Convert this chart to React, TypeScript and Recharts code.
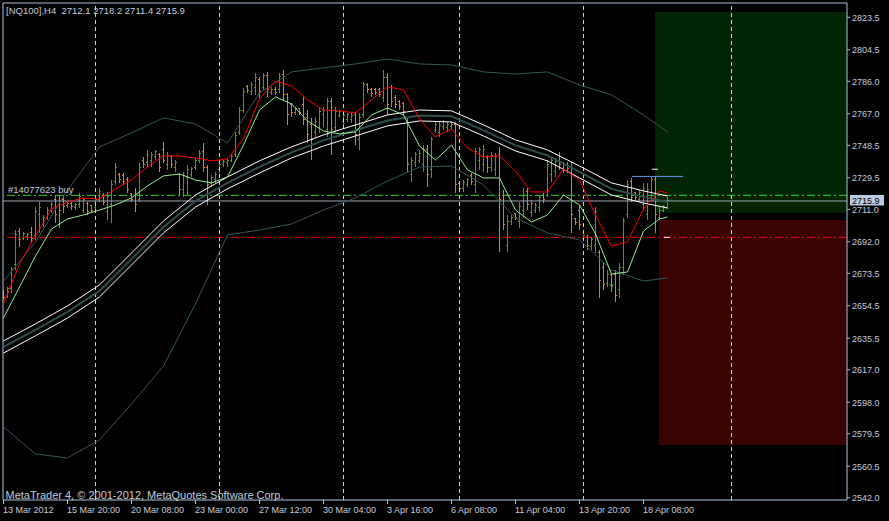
import React from "react";
import {
  ComposedChart,
  Bar,
  Line,
  XAxis,
  YAxis,
  ReferenceLine,
  ReferenceArea,
  ReferenceDot,
} from "recharts";

const UP = "#6b8e23"; // olive drab
const DOWN = "#e8782c"; // orange
const FG = "#b0c4de";
const TEXT = "#c3cddd";
const FONT = "'Liberation Sans', Arial, sans-serif";

const Y_MIN = 2540.7;
const Y_MAX = 2831.9;
const X_MIN = -0.125;
const X_MAX = 210.875;

// H4 bars, 13 Mar 2012 .. 19 Apr 2012
const OPEN = [
  2662.6, 2660.2, 2664.9, 2678.4, 2697.8, 2694.2, 2694.8, 2697.2, 2695.4, 2707.7,
  2702.4, 2706.5, 2710.6, 2716.5, 2713.6, 2716.5, 2713.0, 2714.2, 2711.8, 2713.6,
  2710.6, 2714.7, 2713.0, 2711.8, 2716.5, 2719.4, 2709.5, 2713.6, 2727.1, 2731.2,
  2730.6, 2728.2, 2720.0, 2719.4, 2716.5, 2739.9, 2738.2, 2739.9, 2741.7, 2742.9,
  2745.8, 2737.0, 2741.7, 2735.3, 2731.2, 2722.4, 2729.4, 2731.7, 2735.8, 2739.9,
  2744.6, 2735.3, 2725.9, 2728.2, 2734.1, 2737.0, 2738.2, 2739.9, 2742.9, 2755.8,
  2769.2, 2782.7, 2779.8, 2782.1, 2786.8, 2782.1, 2789.2, 2779.2, 2781.5, 2781.0,
  2789.8, 2778.0, 2772.2, 2767.5, 2769.8, 2772.2, 2764.6, 2760.5, 2755.8, 2758.7,
  2766.3, 2757.5, 2773.9, 2758.7, 2765.7, 2762.2, 2763.4, 2763.4, 2766.3, 2751.7,
  2766.3, 2783.9, 2781.0, 2781.5, 2781.0, 2776.3, 2788.0, 2782.1, 2776.3, 2773.9,
  2772.8, 2764.6, 2731.2, 2738.2, 2739.9, 2737.0, 2745.8, 2734.1, 2757.5, 2755.8,
  2759.3, 2758.7, 2759.3, 2760.5, 2725.9, 2723.0, 2725.3, 2730.6, 2725.3, 2739.9,
  2737.0, 2741.1, 2735.3, 2734.1, 2742.9, 2719.4, 2690.1, 2703.6, 2708.3, 2703.6,
  2710.6, 2721.2, 2708.9, 2710.6, 2711.8, 2719.4, 2719.4, 2731.2, 2732.9, 2742.3,
  2737.6, 2737.0, 2735.3, 2705.4, 2710.6, 2693.7, 2694.8, 2689.0, 2690.1, 2686.0,
  2676.7, 2667.3, 2672.6, 2672.6, 2663.8, 2676.7, 2707.7, 2727.1, 2720.6, 2716.5,
  2713.6, 2707.7, 2717.7, 2728.2, 2706.5, 2710.6, 2712.1,
];
const HIGH = [
  2663.8, 2665.5, 2677.2, 2698.9, 2700.1, 2697.8, 2697.2, 2700.7, 2712.4, 2715.3,
  2707.7, 2712.4, 2715.3, 2719.4, 2719.4, 2719.4, 2715.3, 2715.3, 2714.7, 2720.6,
  2717.7, 2715.3, 2713.6, 2718.3, 2723.5, 2720.6, 2721.2, 2728.2, 2738.2, 2732.3,
  2732.3, 2730.0, 2720.6, 2723.5, 2738.2, 2741.7, 2745.8, 2744.6, 2745.8, 2744.0,
  2750.5, 2744.6, 2742.9, 2739.9, 2732.3, 2732.9, 2737.0, 2735.8, 2741.1, 2745.8,
  2749.9, 2737.0, 2731.2, 2732.9, 2738.8, 2739.9, 2741.1, 2742.9, 2756.4, 2771.0,
  2782.1, 2783.9, 2785.6, 2790.9, 2788.6, 2790.9, 2791.5, 2782.7, 2782.7, 2790.9,
  2792.7, 2779.2, 2773.3, 2771.0, 2770.4, 2776.9, 2769.2, 2764.6, 2765.1, 2771.0,
  2771.0, 2776.3, 2776.3, 2771.0, 2769.2, 2767.5, 2767.5, 2767.5, 2768.1, 2767.5,
  2785.6, 2785.1, 2782.1, 2782.1, 2782.1, 2792.7, 2790.9, 2783.9, 2778.0, 2775.1,
  2773.9, 2765.1, 2741.7, 2744.6, 2745.8, 2748.7, 2748.7, 2753.4, 2762.2, 2762.2,
  2763.4, 2762.2, 2762.2, 2762.2, 2727.1, 2728.2, 2729.4, 2732.3, 2747.0, 2747.6,
  2748.7, 2742.9, 2744.6, 2744.0, 2747.6, 2722.4, 2707.7, 2707.7, 2708.9, 2715.3,
  2723.5, 2723.5, 2716.5, 2714.7, 2719.4, 2720.6, 2739.9, 2741.7, 2741.1, 2744.6,
  2738.8, 2738.8, 2738.8, 2706.0, 2713.6, 2696.0, 2696.0, 2694.8, 2712.4, 2687.2,
  2679.6, 2675.5, 2673.7, 2675.5, 2679.6, 2706.0, 2728.2, 2729.4, 2721.2, 2722.4,
  2726.5, 2726.5, 2730.0, 2730.6, 2712.4, 2713.6, 2718.2,
];
const LOW = [
  2657.9, 2659.1, 2662.0, 2675.5, 2689.0, 2693.1, 2693.1, 2691.9, 2693.1, 2697.2,
  2700.7, 2704.8, 2708.9, 2703.0, 2700.1, 2708.9, 2711.8, 2710.6, 2710.6, 2711.8,
  2708.9, 2707.7, 2708.9, 2710.6, 2715.3, 2713.6, 2704.8, 2703.0, 2725.3, 2726.5,
  2725.3, 2720.6, 2715.3, 2709.5, 2715.3, 2735.3, 2735.8, 2735.8, 2739.9, 2732.9,
  2738.2, 2734.1, 2735.3, 2732.9, 2719.4, 2718.3, 2719.4, 2730.0, 2734.1, 2738.2,
  2732.9, 2713.6, 2724.1, 2726.5, 2732.3, 2735.8, 2735.8, 2738.8, 2741.7, 2754.6,
  2767.5, 2779.2, 2778.0, 2778.0, 2776.3, 2781.0, 2776.9, 2778.0, 2778.0, 2779.2,
  2775.1, 2760.5, 2765.1, 2766.3, 2766.3, 2760.5, 2749.9, 2739.9, 2753.4, 2755.8,
  2759.3, 2753.4, 2742.9, 2756.4, 2764.6, 2760.5, 2762.2, 2761.6, 2748.7, 2745.8,
  2764.6, 2779.2, 2776.9, 2778.0, 2776.9, 2773.9, 2766.3, 2771.0, 2770.4, 2769.2,
  2766.3, 2732.9, 2727.1, 2735.8, 2738.2, 2732.9, 2724.1, 2729.4, 2755.8, 2753.4,
  2757.5, 2756.4, 2757.5, 2720.6, 2721.2, 2721.2, 2724.1, 2725.3, 2720.6, 2734.1,
  2732.9, 2732.3, 2732.9, 2730.6, 2686.0, 2698.9, 2686.0, 2701.9, 2704.8, 2700.1,
  2706.0, 2710.6, 2706.5, 2708.9, 2709.5, 2714.7, 2718.3, 2727.1, 2730.0, 2734.1,
  2732.3, 2732.3, 2697.2, 2701.9, 2698.9, 2693.1, 2687.2, 2687.2, 2685.4, 2659.1,
  2663.8, 2665.5, 2663.8, 2656.7, 2659.1, 2672.6, 2706.0, 2715.3, 2716.5, 2715.3,
  2710.6, 2704.8, 2715.3, 2697.2, 2704.8, 2709.5, 2711.4,
];
const CLOSE = [
  2659.1, 2664.4, 2675.5, 2696.0, 2693.1, 2696.6, 2696.0, 2694.2, 2709.5, 2711.8,
  2706.0, 2710.6, 2713.6, 2707.7, 2710.6, 2712.4, 2714.7, 2712.4, 2713.6, 2718.8,
  2716.5, 2709.5, 2710.6, 2716.5, 2721.2, 2715.3, 2718.8, 2725.3, 2735.3, 2728.2,
  2727.1, 2722.4, 2716.5, 2713.6, 2735.8, 2737.0, 2742.9, 2742.9, 2744.6, 2735.3,
  2739.9, 2742.3, 2737.0, 2738.2, 2722.4, 2730.6, 2734.1, 2734.7, 2739.4, 2744.0,
  2735.3, 2725.3, 2729.4, 2731.2, 2737.0, 2738.8, 2739.9, 2741.7, 2754.0, 2769.2,
  2779.8, 2780.4, 2783.9, 2788.0, 2779.8, 2789.2, 2781.0, 2781.5, 2779.2, 2788.6,
  2778.0, 2766.3, 2767.5, 2769.8, 2767.5, 2763.4, 2754.6, 2751.7, 2762.2, 2768.1,
  2769.2, 2773.9, 2757.5, 2768.1, 2768.1, 2765.7, 2766.3, 2765.7, 2754.6, 2764.6,
  2783.9, 2781.0, 2778.6, 2779.2, 2778.0, 2788.0, 2772.2, 2773.9, 2772.2, 2771.0,
  2768.1, 2737.0, 2739.9, 2742.9, 2744.0, 2745.8, 2731.2, 2751.7, 2760.5, 2759.9,
  2762.2, 2760.5, 2761.0, 2725.3, 2723.0, 2726.5, 2728.2, 2727.1, 2744.6, 2745.8,
  2745.8, 2735.3, 2742.3, 2741.7, 2716.5, 2701.9, 2703.6, 2706.0, 2706.0, 2712.4,
  2719.4, 2713.6, 2714.7, 2713.0, 2717.7, 2716.5, 2737.0, 2739.9, 2738.8, 2737.0,
  2734.1, 2734.7, 2707.7, 2703.0, 2701.9, 2695.4, 2690.1, 2693.1, 2709.5, 2669.6,
  2666.7, 2673.1, 2665.5, 2660.8, 2676.7, 2703.6, 2725.3, 2717.7, 2717.7, 2720.6,
  2723.5, 2722.4, 2728.2, 2707.7, 2710.6, 2712.4, 2715.9,
];

// indicator lines, read every 4th / 8th bar
const MA_BARS = [
  0, 4, 8, 12, 16, 20, 24, 28, 32, 36, 40, 44, 48, 52, 56, 60, 64, 68, 72, 76, 80,
  84, 88, 92, 96, 100, 104, 108, 112, 116, 120, 124, 128, 132, 136, 140, 144, 148,
  152, 156, 160, 164, 166,
];
const FAST_MA = [
  2655.6, 2679.0, 2695.4, 2711.2, 2715.3, 2717.7, 2717.1, 2723.0, 2728.2, 2735.8,
  2742.3, 2742.3, 2741.1, 2739.4, 2740.5, 2752.3, 2775.7, 2786.2, 2783.3, 2775.1,
  2769.2, 2768.7, 2767.5, 2775.1, 2782.7, 2781.0, 2764.0, 2753.4, 2758.1, 2747.0,
  2741.7, 2742.3, 2733.5, 2721.2, 2721.2, 2734.7, 2728.2, 2707.7, 2689.5, 2691.9,
  2711.2, 2721.8, 2720.6,
];
const SLOW_MA = [
  2647.4, 2665.5, 2683.7, 2699.5, 2705.4, 2707.7, 2710.6, 2713.6, 2717.7, 2724.7,
  2730.6, 2731.7, 2728.2, 2726.5, 2730.0, 2748.7, 2769.2, 2776.9, 2772.8, 2762.8,
  2756.9, 2755.2, 2756.4, 2766.3, 2770.4, 2766.3, 2748.1, 2739.9, 2748.7, 2734.1,
  2729.4, 2729.4, 2710.6, 2703.6, 2707.7, 2719.4, 2713.6, 2696.6, 2673.1, 2674.3,
  2698.3, 2705.4, 2706.5,
];

const BAND_BARS = [
  0, 8, 16, 24, 32, 40, 48, 56, 64, 72, 80, 88, 96, 104, 112, 120, 128, 136, 144,
  152, 160, 166,
];
const ENV_UPPER = [
  2633.9, 2643.9, 2654.4, 2666.7, 2685.4, 2704.2, 2719.4, 2730.0, 2739.4, 2747.6,
  2754.6, 2760.5, 2766.3, 2769.2, 2768.7, 2760.5, 2751.7, 2745.8, 2736.4, 2726.5,
  2721.8, 2718.8,
];
const ENV_MID = [
  2630.4, 2640.4, 2650.9, 2663.2, 2681.9, 2700.7, 2715.9, 2726.5, 2735.9, 2744.4,
  2751.4, 2757.3, 2763.1, 2766.0, 2765.5, 2757.3, 2748.5, 2742.6, 2732.9, 2723.0,
  2718.3, 2715.3,
];
const ENV_LOWER = [
  2626.8, 2636.9, 2647.3, 2659.7, 2678.4, 2697.2, 2712.4, 2723.0, 2732.3, 2741.1,
  2748.1, 2754.0, 2759.9, 2762.8, 2762.2, 2754.0, 2745.2, 2739.4, 2729.4, 2719.4,
  2714.7, 2711.8,
];
const BB_UPPER = [
  2669.0, 2691.9, 2722.4, 2747.6, 2755.8, 2764.6, 2761.0, 2749.9, 2779.2, 2791.5,
  2793.9, 2796.2, 2799.1, 2796.2, 2795.6, 2791.5, 2790.3, 2791.5, 2783.9, 2778.0,
  2766.3, 2756.4,
];
const BB_LOWER = [
  2583.5, 2567.7, 2565.3, 2575.9, 2597.0, 2619.2, 2655.6, 2696.0, 2698.9, 2702.4,
  2710.6, 2717.7, 2727.6, 2735.8, 2736.4, 2725.3, 2706.0, 2697.2, 2693.1, 2675.5,
  2669.0, 2670.8,
];

const PRICE_TICKS = [
  2823.5, 2804.5, 2786.0, 2767.0, 2748.5, 2729.5, 2711.0, 2692.0, 2673.5, 2654.5,
  2635.5, 2617.0, 2598.0, 2579.5, 2560.5, 2542.0,
];
const X_TICKS = [0, 16, 32, 48, 64, 80, 96, 112, 128, 144, 160];
const DATE_LABELS = [
  "13 Mar 2012", "15 Mar 20:00", "20 Mar 08:00", "23 Mar 00:00", "27 Mar 12:00",
  "30 Mar 04:00", "3 Apr 16:00", "6 Apr 08:00", "11 Apr 04:00", "13 Apr 20:00",
  "18 Apr 08:00",
];
const SEPARATOR_BARS = [23, 54, 85, 114, 145, 182];

// order / objects
const BID = 2715.9;
const ORDER_PRICE = 2719.2;
const STOP_PRICE = 2694.6;
const TP_ZONE = { x1: 162.875, y1: 2709.0, y2: 2826.7 };
const SL_ZONE = { x1: 163.875, y1: 2572.9, y2: 2704.8 };

const bars = OPEN.map((o, i) => ({
  i,
  open: o,
  high: HIGH[i],
  low: LOW[i],
  close: CLOSE[i],
  range: [LOW[i], HIGH[i]],
}));

const toRows = (xs: number[], vs: number[]) => xs.map((i, k) => ({ i, v: vs[k] }));

function OhlcShape(props: any) {
  const { x, y, width, height, payload } = props;
  if (x == null || y == null || !payload) return null;
  const top = Math.min(y, y + height);
  const h = Math.abs(height);
  const cx = Math.floor(x + width / 2);
  const span = payload.high - payload.low || 1;
  const k = h / span;
  const oy = Math.round(top + (payload.high - payload.open) * k - 0.5);
  const cy = Math.round(top + (payload.high - payload.close) * k - 0.5);
  const color = payload.close >= payload.open ? UP : DOWN;
  return (
    <g fill={color} shapeRendering="crispEdges">
      <rect x={cx} y={Math.round(top)} width={1} height={Math.max(1, Math.round(h))} />
      <rect x={cx - 1} y={oy} width={1} height={1} />
      <rect x={cx + 1} y={cy} width={1} height={1} />
    </g>
  );
}

function DateTick({ x, y, payload }: any) {
  const k = X_TICKS.indexOf(payload.value);
  return (
    <text x={x - 0.5} y={y} dy={6.7} fill={TEXT} fontSize={9} fontFamily={FONT} textAnchor="start">
      {DATE_LABELS[k]}
    </text>
  );
}

function PriceTick({ x, y, payload }: any) {
  return (
    <text x={x} y={y} dy={3.4} fill={TEXT} fontSize={9} fontFamily={FONT} textAnchor="start">
      {Number(payload.value).toFixed(1)}
    </text>
  );
}

function BidLabel(props: any) {
  const vb = props.viewBox;
  if (!vb) return null;
  const x = vb.x + vb.width + 3;
  return (
    <g>
      <rect x={x} y={vb.y - 6} width={34} height={10.5} fill="#bccbe2" />
      <text x={x + 2} y={vb.y + 3.2} fontSize={9} fontFamily={FONT} fill="#000">
        {BID.toFixed(1)}
      </text>
    </g>
  );
}

function BuyArrow(p: any) {
  return (
    <g stroke="#00ff00" strokeWidth={1}>
      <line x1={p.cx} y1={p.cy - 5} x2={p.cx} y2={p.cy + 5} />
      <line x1={p.cx - 2} y1={p.cy - 2} x2={p.cx + 2} y2={p.cy - 2} />
    </g>
  );
}

const textStyle: React.CSSProperties = {
  position: "absolute",
  color: TEXT,
  fontFamily: FONT,
  fontSize: 9.5,
  lineHeight: "11px",
  whiteSpace: "pre",
  pointerEvents: "none",
};

export default function App() {
  return (
    <div style={{ position: "relative", width: 889, height: 521, background: "#000" }}>
      <style>{"body{margin:0;background:#000}"}</style>
      <ComposedChart
        width={889}
        height={521}
        data={bars}
        margin={{ top: 3, right: 0, bottom: 0, left: 3 }}
      >
        <XAxis
          type="number"
          dataKey="i"
          domain={[X_MIN, X_MAX]}
          allowDataOverflow
          ticks={X_TICKS}
          interval={0}
          height={21}
          tickSize={4}
          tickMargin={2}
          stroke={FG}
          tick={<DateTick />}
        />
        <YAxis
          orientation="right"
          type="number"
          domain={[Y_MIN, Y_MAX]}
          allowDataOverflow
          ticks={PRICE_TICKS}
          interval={0}
          width={42}
          tickSize={3}
          tickMargin={2}
          stroke={FG}
          tick={<PriceTick />}
        />

        <ReferenceArea
          x1={TP_ZONE.x1}
          x2={X_MAX}
          y1={TP_ZONE.y1}
          y2={TP_ZONE.y2}
          fill="#022402"
          fillOpacity={1}
          stroke="none"
        />
        <ReferenceArea
          x1={SL_ZONE.x1}
          x2={X_MAX}
          y1={SL_ZONE.y1}
          y2={SL_ZONE.y2}
          fill="#3a0101"
          fillOpacity={1}
          stroke="none"
        />

        {SEPARATOR_BARS.map((b) => (
          <ReferenceLine key={b} x={b} stroke="#c8d2e4" strokeDasharray="4 3" />
        ))}
        <ReferenceLine x={X_MIN} stroke={FG} />
        <ReferenceLine y={Y_MAX} stroke={FG} />
        <ReferenceLine y={ORDER_PRICE} stroke="#32cd32" strokeDasharray="8 3 2 3" />
        <ReferenceLine y={STOP_PRICE} stroke="#ff0000" strokeDasharray="8 3 2 3" />
        <ReferenceLine y={BID} stroke="#9aa4b0" label={BidLabel} />

        <Line data={toRows(BAND_BARS, BB_UPPER)} dataKey="v" type="linear" stroke="#355757" strokeWidth={1} dot={false} isAnimationActive={false} />
        <Line data={toRows(BAND_BARS, BB_LOWER)} dataKey="v" type="linear" stroke="#355757" strokeWidth={1} dot={false} isAnimationActive={false} />

        <Bar dataKey="range" barSize={1} shape={<OhlcShape />} isAnimationActive={false} />

        <Line data={toRows(BAND_BARS, ENV_MID)} dataKey="v" type="linear" stroke="#2f4f4f" strokeWidth={2} dot={false} isAnimationActive={false} />
        <Line data={toRows(BAND_BARS, ENV_UPPER)} dataKey="v" type="linear" stroke="#ffffff" strokeWidth={1} dot={false} isAnimationActive={false} />
        <Line data={toRows(BAND_BARS, ENV_LOWER)} dataKey="v" type="linear" stroke="#ffffff" strokeWidth={1} dot={false} isAnimationActive={false} />
        <Line data={toRows(MA_BARS, SLOW_MA)} dataKey="v" type="linear" stroke="#90ee90" strokeWidth={1} dot={false} isAnimationActive={false} />
        <Line data={toRows(MA_BARS, FAST_MA)} dataKey="v" type="linear" stroke="#ff0000" strokeWidth={1} dot={false} isAnimationActive={false} />

        <ReferenceLine segment={[{ x: 157.1, y: 2730.3 }, { x: 169.9, y: 2730.3 }]} stroke="#6495ed" />
        <ReferenceLine segment={[{ x: 162.1, y: 2734.5 }, { x: 163.6, y: 2734.5 }]} stroke="#ffffff" />
        <ReferenceLine segment={[{ x: 165.1, y: 2694.6 }, { x: 166.6, y: 2694.6 }]} stroke="#ffffff" />
        <ReferenceDot x={152} y={2665.5} r={3} shape={BuyArrow} />
      </ComposedChart>

      <div style={{ ...textStyle, left: 6, top: 5 }}>{"[NQ100],H4  2712.1 2718.2 2711.4 2715.9"}</div>
      <div style={{ ...textStyle, left: 8, top: 184 }}>{"#14077623 buy"}</div>
      <div style={{ ...textStyle, left: 5.5, top: 488.7, fontSize: 11, lineHeight: "13px" }}>
        {"MetaTrader 4, © 2001-2012, MetaQuotes Software Corp."}
      </div>
    </div>
  );
}
